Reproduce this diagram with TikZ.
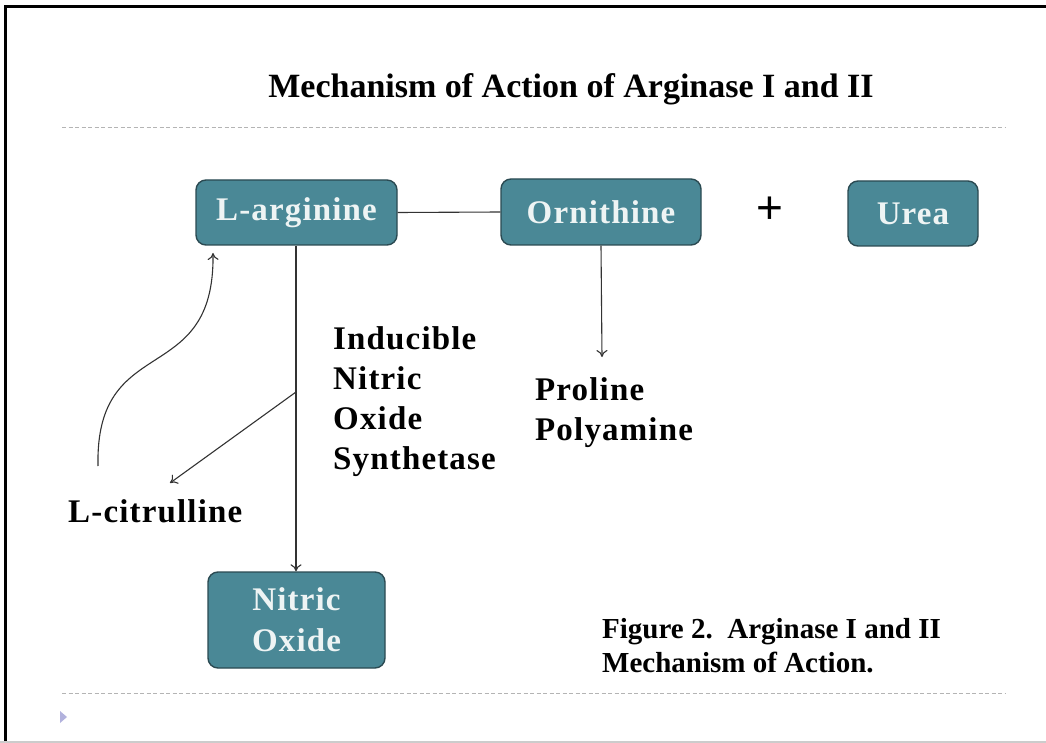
\documentclass[tikz,border=0pt]{standalone}
\usepackage{fontspec}
\setmainfont{Liberation Serif}
\newfontfamily\widefont[LetterSpace=3.5]{Liberation Serif}
\newfontfamily\plusfont{Liberation Sans}
\usetikzlibrary{arrows.meta}
\definecolor{boxfill}{HTML}{4A8896}
\definecolor{boxdraw}{HTML}{2B4A52}
\definecolor{boxtext}{HTML}{EEF4F4}
\definecolor{dashgrey}{HTML}{B4B4B4}
\definecolor{linegrey}{HTML}{333333}
\tikzset{
  chem/.style={draw=boxdraw, line width=1.4pt, fill=boxfill, rounded corners=10pt,
    text=boxtext, font=\widefont\fontsize{33}{40}\selectfont\bfseries, align=center, inner sep=0pt},
  lbl/.style={anchor=base west, inner sep=0pt, font=\widefont\fontsize{33}{40}\selectfont\bfseries},
  figcap/.style={anchor=base west, inner sep=0pt, font=\fontsize{29}{34}\selectfont\bfseries},
  conn/.style={draw=linegrey, line width=1.1pt},
  arr/.style={conn, -{To[length=7pt,width=11pt]}},
  sep/.style={draw=dashgrey, line width=1pt, dash pattern=on 4pt off 2.5pt}
}
\begin{document}
\begin{tikzpicture}[x=1pt,y=-1pt]
\useasboundingbox (0,0) rectangle (1046,743);
\fill[white] (0,0) rectangle (1046,743);
% frame
\draw[black, line width=3.5pt] (5.5,743) -- (5.5,6.5) -- (1046,6.5);
\draw[black!20, line width=2pt] (0,742) -- (1046,742);
% title and separators
\node[anchor=base, inner sep=0pt, font=\fontsize{34}{40}\selectfont\bfseries] (title) at (571,98) {Mechanism of Action of Arginase I and II};
\draw[sep] (62,128) -- (1005,128);
\draw[sep] (62,693) -- (1005,693);
\fill[black!45!blue!30!white] (60,711) -- (67,717) -- (60,723) -- cycle;
% boxes
\node[chem, minimum width=201pt, minimum height=65pt] (arg) at (296.5,212.5) {L-arginine};
\node[chem, minimum width=200pt, minimum height=66pt] (orn) at (601,212) {Ornithine};
\node[chem, minimum width=130pt, minimum height=65pt] (urea) at (913,213.5) {Urea};
\node[chem, minimum width=177pt, minimum height=96pt, font=\widefont\fontsize{33}{41}\selectfont\bfseries] (no) at (296.5,620) {Nitric\\Oxide};
\node[inner sep=0pt, font=\plusfont\fontsize{46}{46}\selectfont] (plus) at (770,210) {+};
% labels
\node[lbl] (ind) at (333,349) {Inducible};
\node[lbl] (nit) at (333,389) {Nitric};
\node[lbl] (oxi) at (333,429) {Oxide};
\node[lbl] (syn) at (333,469) {Synthetase};
\node[lbl] (pro) at (535,400) {Proline};
\node[lbl] (poly) at (535,440) {Polyamine};
\node[lbl] (cit) at (68,522) {L-citrulline};
\node[figcap] (fig1) at (602,638) {Figure 2.\ \ Arginase I and II};
\node[figcap] (fig2) at (602,672) {Mechanism of Action.};
% connectors
\coordinate (branch) at (296,392);
\coordinate (citTip) at (170,483);
\coordinate (citStart) at (98,466);
\coordinate (argIn) at (213,253);
\coordinate (proTip) at (602,357);
\draw[conn] (arg.east) -- (orn.west);
\draw[arr] (orn.south) -- (proTip);
\draw[arr] (arg.south -| branch) -- (no.north -| branch);
\draw[arr] (branch) -- (citTip);
\draw[arr] (citStart) .. controls (95,330) and (215,390) .. (argIn);
\end{tikzpicture}
\end{document}
